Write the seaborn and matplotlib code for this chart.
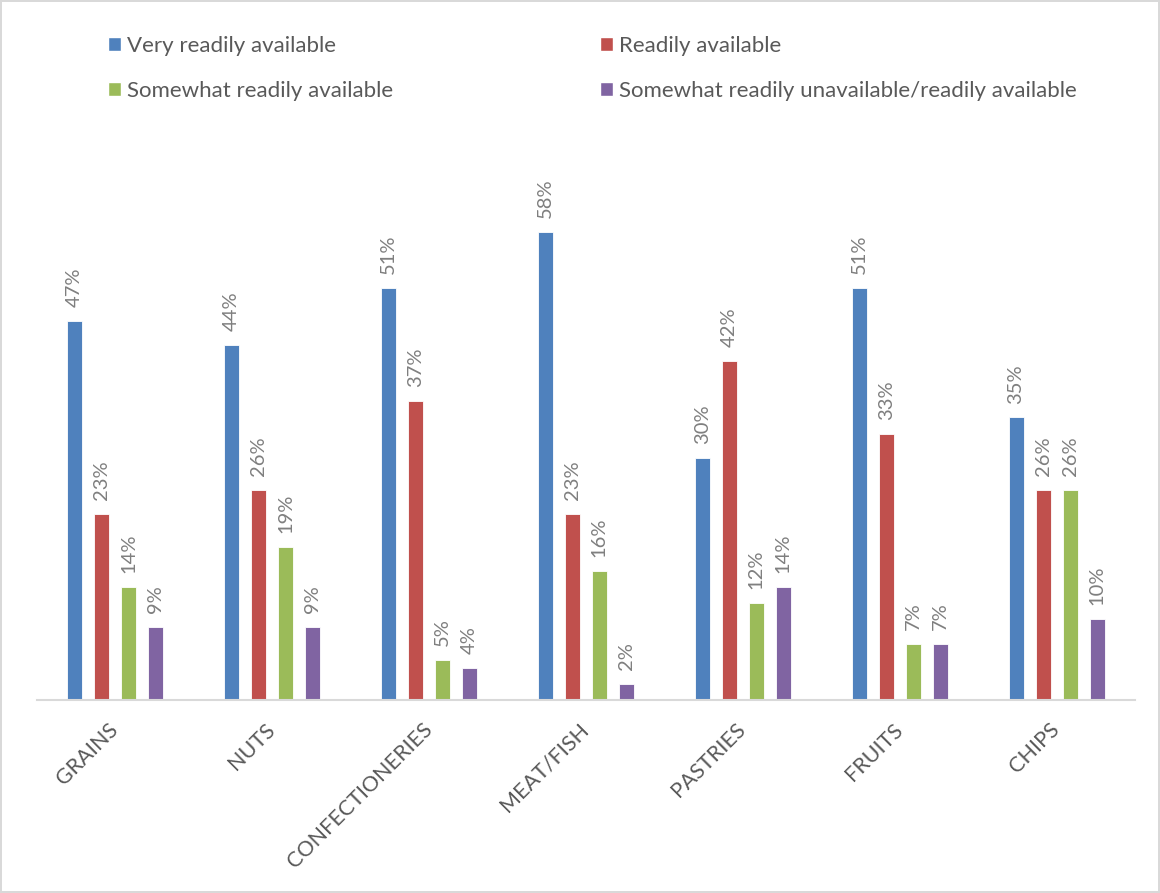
import numpy as np
import pandas as pd
import matplotlib
matplotlib.use("Agg")
import matplotlib.pyplot as plt
from matplotlib.patches import Patch
import seaborn as sns

# Data
categories = ["GRAINS", "NUTS", "CONFECTIONERIES", "MEAT/FISH", "PASTRIES", "FRUITS", "CHIPS"]
series = ["Very readily available", "Readily available",
          "Somewhat readily available", "Somewhat readily unavailable/readily available"]
very_ready = [47, 44, 51, 58, 30, 51, 35]
ready = [23, 26, 37, 23, 42, 33, 26]
somewhat_ready = [14, 19, 5, 16, 12, 7, 26]
somewhat_unavailable = [9, 9, 4, 2, 14, 7, 10]
colors = ["#4F81BD", "#C0504D", "#9BBB59", "#8064A2"]

df = pd.DataFrame({
    "Food": categories * 4,
    "Availability": np.repeat(series, len(categories)),
    "Share": very_ready + ready + somewhat_ready + somewhat_unavailable,
})

sns.set_theme(style="white")
plt.rcParams["font.family"] = ["Lato", "DejaVu Sans"]
text_grey = "#595959"

fig = plt.figure(figsize=(11.6, 8.93), dpi=100, edgecolor="#D9D9D9", linewidth=1.5)
ax = fig.add_axes([0.0315, 0.2161, 0.947, 0.6148])

sns.barplot(data=df, x="Food", y="Share", hue="Availability", palette=colors,
            saturation=1, width=0.688, gap=0.444, edgecolor="white", linewidth=0.6,
            legend=False, ax=ax)

# value labels above each bar
for cont in ax.containers:
    ax.bar_label(cont, labels=[f"{v:.0f}%" for v in cont.datavalues],
                 rotation=90, padding=10, color="#7F7F7F", fontsize=14.5)

ax.set_ylim(0, 68)
ax.set_yticks([])
ax.set_xlabel("")
ax.set_ylabel("")
for s in ["top", "left", "right"]:
    ax.spines[s].set_visible(False)
ax.spines["bottom"].set_color("#D9D9D9")
ax.spines["bottom"].set_linewidth(1.5)

ax.tick_params(axis="x", length=0, pad=19)
plt.setp(ax.get_xticklabels(), rotation=45, ha="right", va="center",
         rotation_mode="anchor", color=text_grey, fontsize=15.5)

# legend in two columns at the top
handles = [Patch(facecolor=c, edgecolor="white") for c in colors]
leg_kw = dict(loc="center left", frameon=False, fontsize=16, labelcolor=text_grey,
              handlelength=0.6, handleheight=0.6, handletextpad=0.25,
              labelspacing=1.12, borderpad=0, borderaxespad=0)
fig.legend([handles[0], handles[2]], [series[0], series[2]],
           bbox_to_anchor=(0.093, 0.9235), **leg_kw)
fig.legend([handles[1], handles[3]], [series[1], series[3]],
           bbox_to_anchor=(0.517, 0.9235), **leg_kw)

fig.savefig("out.png", dpi=100)
